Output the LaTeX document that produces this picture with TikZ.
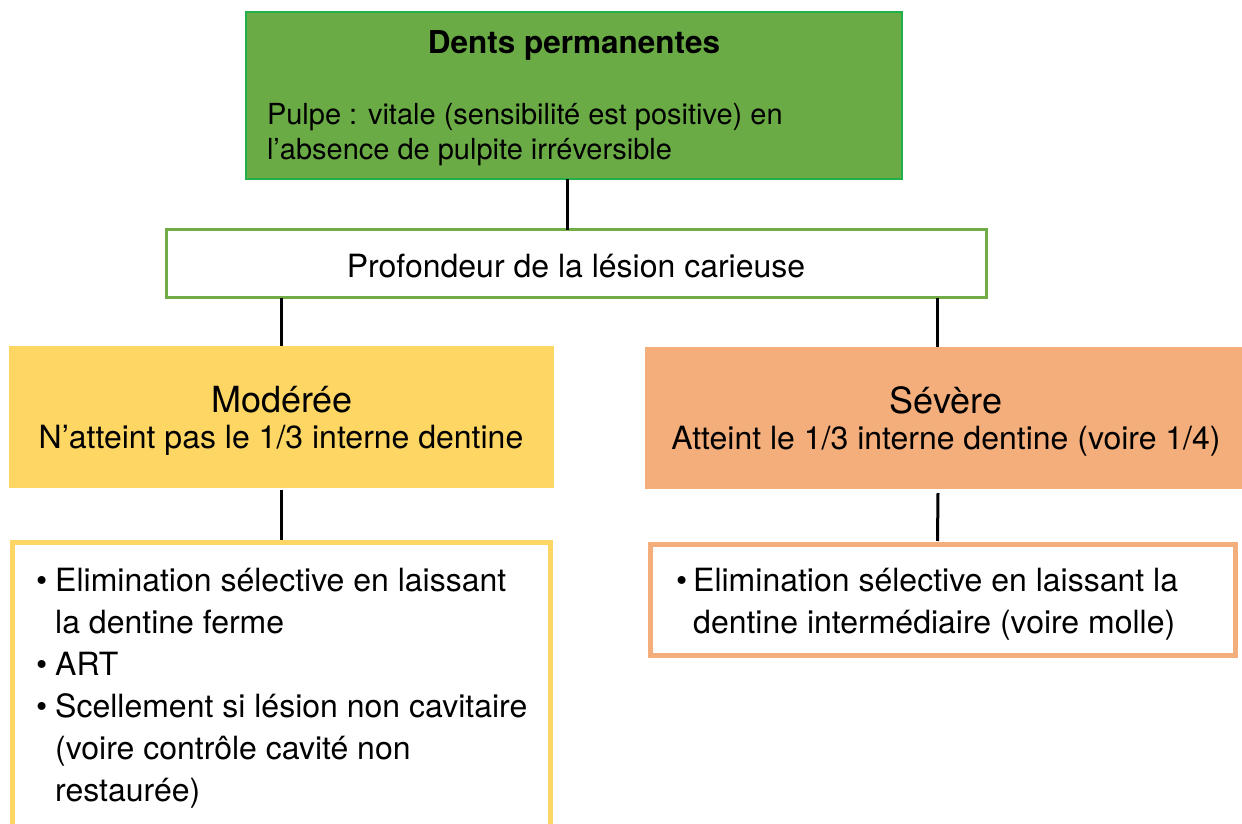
\documentclass[tikz,border=0pt]{standalone}
\usepackage{fontspec}
\setmainfont{TeX Gyre Heros}
\definecolor{gfill}{HTML}{6AAB46}
\definecolor{gborder}{HTML}{22B04B}
\definecolor{mborder}{HTML}{70AD47}
\definecolor{yfill}{HTML}{FDD663}
\definecolor{ofill}{HTML}{F3AE7B}
\begin{document}
\begin{tikzpicture}[x=1pt,y=-1pt,
  every node/.style={inner sep=0pt, outer sep=0pt},
  conn/.style={line width=3pt, black},
  body/.style={font=\fontsize{32}{42}\selectfont},
  big/.style={font=\fontsize{36}{42}\selectfont}]
\useasboundingbox (0,0) rectangle (1242,824);
\fill[white] (0,0) rectangle (1242,824);

% boxes
\node[draw=gborder, line width=2pt, fill=gfill, minimum width=656pt, minimum height=167pt] (top) at (574,95.5) {};
\node[draw=mborder, line width=3pt, fill=white, minimum width=820pt, minimum height=68pt] (mid) at (576.5,263.5) {};
\node[fill=yfill, minimum width=545pt, minimum height=142pt] (mod) at (281.5,417) {};
\node[fill=ofill, minimum width=597pt, minimum height=142pt] (sev) at (943.5,418) {};
\node[draw=yfill, line width=5pt, fill=white, minimum width=538pt, minimum height=360pt, anchor=north] (modlist) at (281.5,542.5) {};
\node[draw=ofill, line width=5pt, fill=white, minimum width=585pt, minimum height=111pt] (sevlist) at (943,600) {};

% connectors
\draw[conn] ([xshift=-7pt]top.south) -- ([xshift=-7pt]top.south |- mid.north);
\draw[conn] (mod.north |- mid.south) -- (mod.north);
\draw[conn] ([xshift=-6.5pt]sev.north |- mid.south) -- ([xshift=-6.5pt]sev.north);
\draw[conn] ([yshift=-2pt]mod.south) -- ([yshift=2.5pt]modlist.north);
\draw[conn] ([xshift=-5.5pt,yshift=-4pt]sev.south) -- ([xshift=-5.5pt,yshift=3.5pt]sevlist.north);

% texts
\node[font=\fontsize{31.5}{36}\selectfont\bfseries] (title) at (574,45) {Dents permanentes};
\node[font=\fontsize{29}{35}\selectfont, align=left, anchor=base west] (pulpe) at (267,160)
  {Pulpe : vitale (sensibilité est positive) en\\l’absence de pulpite irréversible};
\node[body] (prof) at (576,266) {Profondeur de la lésion carieuse};
\node[big] (modt) at (282,400) {Modérée};
\node[body] (mods) at (281,440) {N’atteint pas le 1/3 interne dentine};
\node[big] (sevt) at (946,400) {Sévère};
\node[body] (sevs) at (946,441) {Atteint le 1/3 interne dentine (voire 1/4)};

\node[body, anchor=base west] (modtxt) at (36,591) {%
  \begin{tabular}[t]{@{}l@{\hspace{8pt}}l@{}}
  \textbullet & Elimination sélective en laissant\\
   & la dentine ferme\\
  \textbullet & ART\\
  \textbullet & Scellement si lésion non cavitaire\\
   & (voire contrôle cavité non\\
   & restaurée)
  \end{tabular}};
\node[body, anchor=base west] (sevtxt) at (676,591) {%
  \begin{tabular}[t]{@{}l@{\hspace{6pt}}l@{}}
  \textbullet & Elimination sélective en laissant la\\
   & dentine intermédiaire (voire molle)
  \end{tabular}};
\end{tikzpicture}
\end{document}
